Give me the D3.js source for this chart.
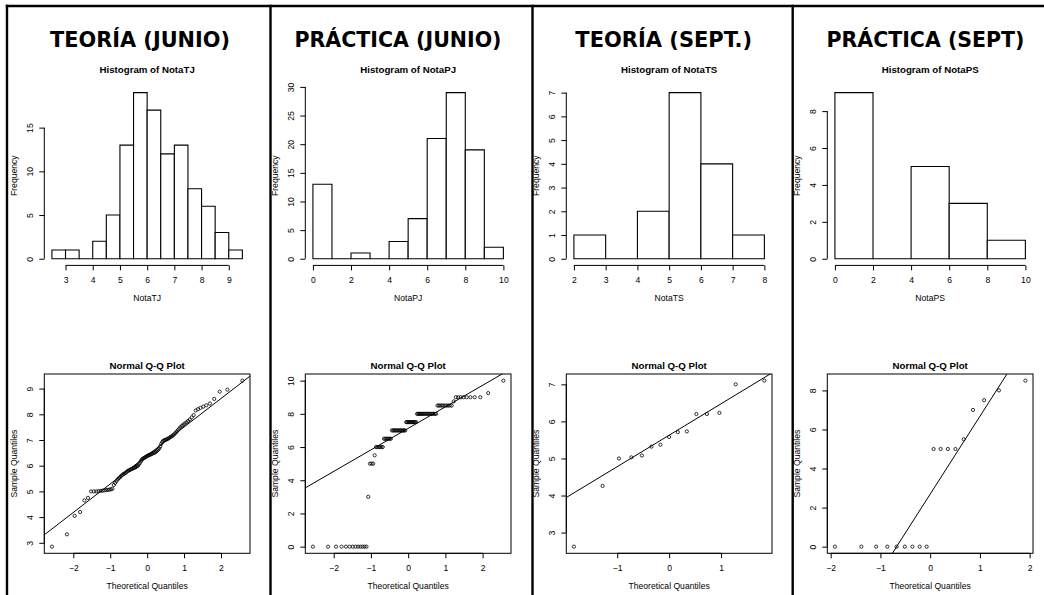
<!DOCTYPE html>
<html><head><meta charset="utf-8">
<script src="https://cdn.jsdelivr.net/npm/d3@7"></script>
<style>body{margin:0;background:#fff}svg{display:block}</style>
</head><body><svg id="c" width="1044" height="595"></svg>
<script>
// ---------------- DATA ----------------
const titles = ["TEORÍA (JUNIO)", "PRÁCTICA (JUNIO)", "TEORÍA (SEPT.)", "PRÁCTICA (SEPT)"];
const varNames = ["NotaTJ", "NotaPJ", "NotaTS", "NotaPS"];

const breaksTJ = [2.5,3,3.5,4,4.5,5,5.5,6,6.5,7,7.5,8,8.5,9,9.5];
const countsTJ = [1,1,0,2,5,13,19,17,12,13,8,6,3,1];
const breaksPJ = [0,1,2,3,4,5,6,7,8,9,10];
const countsPJ = [13,0,1,0,3,7,21,29,19,2];
const breaksTS = [2,3,4,5,6,7,8];
const countsTS = [1,0,2,7,4,1];
const breaksPS = [0,2,4,6,8,10];
const countsPS = [9,0,5,3,1];

const histXTicksTJ = [3,4,5,6,7,8,9];
const histXTicksPJ = [0,2,4,6,8,10];
const histXTicksTS = [2,3,4,5,6,7,8];
const histXTicksPS = [0,2,4,6,8,10];
const histYTicksTJ = [0,5,10,15];
const histYTicksPJ = [0,5,10,15,20,25,30];
const histYTicksTS = [0,1,2,3,4,5,6,7];
const histYTicksPS = [0,2,4,6,8];

const sampleTJ = [2.85,3.33,4.05,4.2,4.65,4.75,5,5,5,5.01,
  5.02,5.03,5.04,5.05,5.06,5.07,5.08,5.1,5.25,5.33,
  5.4,5.47,5.52,5.56,5.61,5.65,5.68,5.7,5.73,5.77,
  5.8,5.82,5.84,5.86,5.88,5.9,5.92,5.93,5.95,5.98,
  6,6.05,6.1,6.17,6.22,6.26,6.29,6.31,6.33,6.35,
  6.38,6.4,6.41,6.43,6.44,6.46,6.48,6.5,6.51,6.53,
  6.56,6.6,6.63,6.68,6.75,6.85,6.92,6.97,6.99,7,
  7.02,7.04,7.06,7.09,7.12,7.145,7.18,7.22,7.27,7.32,
  7.38,7.44,7.5,7.55,7.6,7.64,7.69,7.74,7.8,7.88,
  7.97,8.15,8.2,8.25,8.3,8.35,8.42,8.6,8.88,8.96,9.31];
const samplePJ = [0,0,0,0,0,0,0,0,0,0,0,0,0,
  3,5,5,5,5.5,6,6,6,6,6,6,
  6.5,6.5,6.5,6.5,6.5,6.5,6.5,
  7,7,7,7,7,7,7,7,7,7,7,7,7,7,
  7.5,7.5,7.5,7.5,7.5,7.5,7.5,7.5,7.5,7.5,7.5,
  8,8,8,8,8,8,8,8,8,8,8,8,8,8,8,8,8,8,
  8.5,8.5,8.5,8.5,8.5,8.5,8.5,8.5,8.5,8.5,
  8.75,9,9,9,9,9,9,9,9,9.25,10];
const sampleTS = [2.62,4.26,5,5.03,5.08,5.32,5.37,5.58,5.71,5.73,6.2,6.2,6.23,7,7.1];
const samplePS = [0,0,0,0,0,0,0,0,0,5,5,5,5,5.5,7,7.5,8,8.5];

const qqXTicksTJ = [-2,-1,0,1,2];
const qqXTicksPJ = [-2,-1,0,1,2];
const qqXTicksTS = [-1,0,1];
const qqXTicksPS = [-2,-1,0,1,2];
const qqYTicksTJ = [3,4,5,6,7,8,9];
const qqYTicksPJ = [0,2,4,6,8,10];
const qqYTicksTS = [3,4,5,6,7];
const qqYTicksPS = [0,2,4,6,8];

// ---------------- LAYOUT ----------------
const colOffsets = [0, 261, 522, 783];
const titleCenters = [140, 398, 663.7, 925.5];
const titleWidths = [180, 207, 176.7, 198];
const PL = 44.3, PR = 250;
const HT = 86, HB = 265.4;
const QT = 374, QB = 553.3;
const smallFont = "'Liberation Sans', Arial, sans-serif";

const panels = [
  {breaks: breaksTJ, counts: countsTJ, hx: histXTicksTJ, hy: histYTicksTJ, sample: sampleTJ, qx: qqXTicksTJ, qy: qqYTicksTJ},
  {breaks: breaksPJ, counts: countsPJ, hx: histXTicksPJ, hy: histYTicksPJ, sample: samplePJ, qx: qqXTicksPJ, qy: qqYTicksPJ},
  {breaks: breaksTS, counts: countsTS, hx: histXTicksTS, hy: histYTicksTS, sample: sampleTS, qx: qqXTicksTS, qy: qqYTicksTS},
  {breaks: breaksPS, counts: countsPS, hx: histXTicksPS, hy: histYTicksPS, sample: samplePS, qx: qqXTicksPS, qy: qqYTicksPS}
];

function qnorm(p){
  const a=[-3.969683028665376e+01,2.209460984245205e+02,-2.759285104469687e+02,1.383577518672690e+02,-3.066479806614716e+01,2.506628277459239e+00];
  const b=[-5.447609879822406e+01,1.615858368580409e+02,-1.556989798598866e+02,6.680131188771972e+01,-1.328068155288572e+01];
  const c=[-7.784894002430293e-03,-3.223964580411365e-01,-2.400758277161838e+00,-2.549732539343734e+00,4.374664141464968e+00,2.938163982698783e+00];
  const d=[7.784695709041462e-03,3.224671290700398e-01,2.445134137142996e+00,3.754408661907416e+00];
  const pl=0.02425, ph=1-pl;
  if(p<pl){const q=Math.sqrt(-2*Math.log(p));return (((((c[0]*q+c[1])*q+c[2])*q+c[3])*q+c[4])*q+c[5])/((((d[0]*q+d[1])*q+d[2])*q+d[3])*q+1);}
  if(p<=ph){const q=p-0.5,r=q*q;return (((((a[0]*r+a[1])*r+a[2])*r+a[3])*r+a[4])*r+a[5])*q/(((((b[0]*r+b[1])*r+b[2])*r+b[3])*r+b[4])*r+1);}
  const q=Math.sqrt(-2*Math.log(1-p));return -(((((c[0]*q+c[1])*q+c[2])*q+c[3])*q+c[4])*q+c[5])/((((d[0]*q+d[1])*q+d[2])*q+d[3])*q+1);
}
function ppoints(n){ const a = n<=10 ? 3/8 : 0.5; return d3.range(n).map(i => (i+1-a)/(n+1-2*a)); }
function padExt(ext){ const r = ext[1]-ext[0]; return [ext[0]-0.04*r, ext[1]+0.04*r]; }

const svg = d3.select("#c");
svg.append("rect").attr("width",1044).attr("height",595).attr("fill","#fff");

function styleAxis(g){
  g.selectAll("path.domain").attr("stroke","#000").attr("stroke-width",1);
  g.selectAll(".tick line").attr("stroke","#000").attr("stroke-width",1);
  g.selectAll("text").attr("fill","#000").attr("font-family",smallFont).attr("font-size","8.6px");
}
function xAxis(g, scale, ticks, yPos){
  const ax = d3.axisBottom(scale).tickValues(ticks).tickSize(5).tickSizeOuter(0).tickFormat(d3.format("d"));
  const a = g.append("g").attr("transform",`translate(0,${yPos})`).call(ax);
  a.select(".domain").attr("d",`M${scale(ticks[0])},0H${scale(ticks[ticks.length-1])}`);
  a.selectAll(".tick text").attr("dy",null).attr("y",17.8);
  styleAxis(a);
}
function yAxis(g, scale, ticks, xPos){
  const ax = d3.axisLeft(scale).tickValues(ticks).tickSize(5).tickSizeOuter(0).tickFormat(d3.format("d"));
  const a = g.append("g").attr("transform",`translate(${xPos},0)`).call(ax);
  a.select(".domain").attr("d",`M0,${scale(ticks[0])}V${scale(ticks[ticks.length-1])}`);
  a.selectAll(".tick text").attr("x",null).attr("dy",null)
    .attr("transform","translate(-11,0) rotate(-90)").attr("text-anchor","middle");
  styleAxis(a);
}

panels.forEach((p, i) => {
  const g = svg.append("g").attr("transform",`translate(${colOffsets[i]},0)`);
  svg.append("text").attr("x",titleCenters[i]).attr("y",46.7)
    .attr("text-anchor","middle")
    .attr("font-family","'DejaVu Sans Condensed','DejaVu Sans',Verdana,sans-serif")
    .attr("font-weight","bold").attr("font-size","20.5px")
    .attr("textLength",titleWidths[i]).attr("lengthAdjust","spacingAndGlyphs")
    .text(titles[i]);

  // ---------- histogram ----------
  const bx = d3.scaleLinear().domain(padExt([p.breaks[0], p.breaks[p.breaks.length-1]])).range([PL, PR]);
  const maxC = d3.max(p.counts);
  const by = d3.scaleLinear().domain(padExt([0, maxC])).range([HB, HT]);
  const bins = p.counts.map((c, k) => ({x0: p.breaks[k], x1: p.breaks[k+1], c}));
  g.append("g").selectAll("path").data(bins).join("path")
    .attr("d", b => `M${bx(b.x0)},${by(0)}V${by(b.c)}H${bx(b.x1)}V${by(0)}Z`)
    .attr("fill","#fff").attr("stroke","#000").attr("stroke-width",1.1);
  xAxis(g, bx, p.hx, HB);
  yAxis(g, by, p.hy, PL);
  g.append("text").attr("x",(PL+PR)/2).attr("y",72.8).attr("text-anchor","middle")
    .attr("font-family",smallFont).attr("font-weight","bold").attr("font-size","9.7px")
    .text("Histogram of " + varNames[i]);
  g.append("text").attr("x",(PL+PR)/2).attr("y",HB+35.5).attr("text-anchor","middle")
    .attr("font-family",smallFont).attr("font-size","8.6px").text(varNames[i]);
  g.append("text").attr("transform",`translate(16.5,${(HT+HB)/2}) rotate(-90)`).attr("text-anchor","middle")
    .attr("font-family",smallFont).attr("font-size","8.6px").text("Frequency");

  // ---------- Q-Q plot ----------
  const ys = p.sample.slice().sort(d3.ascending);
  const n = ys.length;
  const xs = ppoints(n).map(qnorm);
  const qx = d3.scaleLinear().domain(padExt(d3.extent(xs))).range([PL, PR]);
  const qy = d3.scaleLinear().domain(padExt(d3.extent(ys))).range([QB, QT]);
  const clipId = "clip"+i;
  g.append("clipPath").attr("id",clipId).append("rect")
    .attr("x",PL).attr("y",QT).attr("width",PR-PL).attr("height",QB-QT);
  const q1 = d3.quantileSorted(ys, 0.25), q3 = d3.quantileSorted(ys, 0.75);
  const slope = (q3 - q1) / (qnorm(0.75) - qnorm(0.25));
  const inter = q1 - slope * qnorm(0.25);
  const dx = qx.domain();
  g.append("line").attr("clip-path",`url(#${clipId})`)
    .attr("x1",qx(dx[0])).attr("y1",qy(inter + slope*dx[0]))
    .attr("x2",qx(dx[1])).attr("y2",qy(inter + slope*dx[1]))
    .attr("stroke","#000").attr("stroke-width",1);
  g.append("g").selectAll("circle").data(ys).join("circle")
    .attr("cx",(d,k)=>qx(xs[k])).attr("cy",d=>qy(d)).attr("r",1.6)
    .attr("fill","none").attr("stroke","#000").attr("stroke-width",0.8);
  g.append("rect").attr("x",PL).attr("y",QT).attr("width",PR-PL).attr("height",QB-QT)
    .attr("fill","none").attr("stroke","#000").attr("stroke-width",1);
  xAxis(g, qx, p.qx, QB);
  yAxis(g, qy, p.qy, PL);
  g.append("text").attr("x",(PL+PR)/2).attr("y",368.5).attr("text-anchor","middle")
    .attr("font-family",smallFont).attr("font-weight","bold").attr("font-size","9.7px")
    .text("Normal Q-Q Plot");
  g.append("text").attr("x",(PL+PR)/2).attr("y",QB+36).attr("text-anchor","middle")
    .attr("font-family",smallFont).attr("font-size","8.6px").text("Theoretical Quantiles");
  g.append("text").attr("transform",`translate(16.5,${(QT+QB)/2}) rotate(-90)`).attr("text-anchor","middle")
    .attr("font-family",smallFont).attr("font-size","8.6px").text("Sample Quantiles");
});

// frame lines
svg.append("line").attr("x1",5.8).attr("x2",1044).attr("y1",6).attr("y2",6)
  .attr("stroke","#000").attr("stroke-width",2.4);
[7, 270.5, 532.5, 792.7].forEach(x => {
  svg.append("line").attr("x1",x).attr("x2",x).attr("y1",4.8).attr("y2",595)
    .attr("stroke","#000").attr("stroke-width",2.4);
});
</script></body></html>
